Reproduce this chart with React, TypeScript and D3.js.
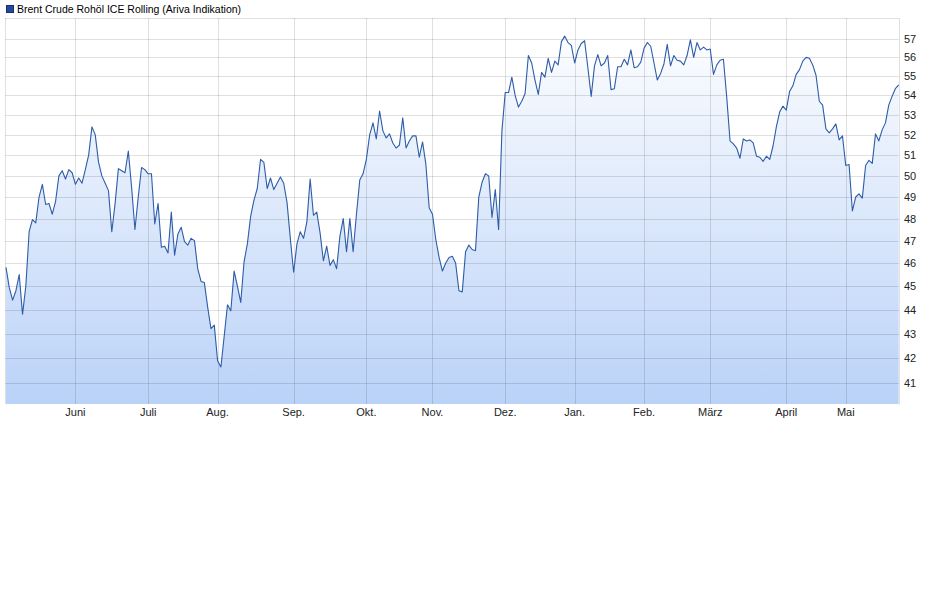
import React from "react";
import * as d3 from "d3";

const seriesName = "Brent Crude Rohöl ICE Rolling (Ariva Indikation)";

const prices: number[] = [
  45.81, 44.93, 44.4, 44.8, 45.5, 43.8, 45.0, 47.4, 47.95, 47.8,
  49.0, 49.6, 48.65, 48.7, 48.2, 48.8, 50.0, 50.25, 49.85, 50.3,
  50.15, 49.6, 49.9, 49.65, 50.3, 51.0, 52.4, 52.0, 50.65, 50.0,
  49.65, 49.3, 47.4, 48.7, 50.35, 50.25, 50.15, 51.2, 49.45, 47.5,
  49.0, 50.4, 50.3, 50.1, 50.1, 47.75, 48.7, 46.7, 46.75, 46.45,
  48.3, 46.35, 47.3, 47.6, 46.95, 46.8, 47.1, 47.0, 45.75, 45.2,
  45.15, 44.1, 43.2, 43.35, 41.9, 41.65, 42.9, 44.2, 43.95, 45.65,
  45.0, 44.3, 46.05, 46.85, 48.1, 48.85, 49.4, 50.8, 50.65, 49.4,
  49.9, 49.35, 49.65, 49.95, 49.65, 48.75, 47.1, 45.6, 46.85, 47.4,
  47.1, 47.85, 49.85, 48.15, 48.3, 47.35, 46.1, 46.75, 45.9, 46.15,
  45.75, 47.2, 48.0, 46.5, 48.0, 46.5, 48.2, 49.8, 50.1, 50.8,
  52.0, 52.6, 51.8, 53.2, 52.2, 51.85, 52.05, 51.6, 51.35, 51.5,
  52.85, 51.35, 51.7, 51.95, 51.95, 50.9, 51.65, 50.55, 48.5, 48.2,
  47.05, 46.25, 45.65, 46.0, 46.25, 46.3, 46.0, 44.8, 44.75, 46.5,
  46.8, 46.6, 46.55, 49.0, 49.7, 50.1, 50.0, 48.05, 49.35, 47.5,
  52.2, 54.15, 54.15, 54.95, 54.0, 53.4, 53.7, 54.1, 56.1, 55.7,
  54.8, 54.05, 55.2, 54.95, 55.95, 55.2, 55.8, 55.6, 56.85, 57.15,
  56.8, 56.65, 55.7, 56.4, 56.75, 56.9, 55.45, 53.95, 55.55, 56.15,
  55.55, 55.7, 56.1, 54.3, 54.35, 55.5, 55.5, 55.9, 55.6, 56.4,
  55.45, 55.5, 55.75, 56.5, 56.8, 56.6, 55.7, 54.8, 55.15, 55.65,
  56.7, 55.55, 56.1, 55.85, 55.8, 55.6, 56.1, 56.95, 56.0, 56.8,
  56.4, 56.55, 56.4, 56.45, 55.1, 55.6, 55.85, 55.9, 53.9, 51.7,
  51.55, 51.35, 50.85, 51.8, 51.7, 51.75, 51.6, 50.95, 50.9, 50.7,
  50.95, 50.8, 51.45, 52.4, 53.15, 53.45, 53.25, 54.2, 54.5, 55.1,
  55.35, 55.8, 56.0, 55.95, 55.6, 55.05, 53.7, 53.5, 52.3, 52.1,
  52.3, 52.55, 51.75, 51.95, 50.5, 50.55, 48.35, 49.0, 49.15, 48.95,
  50.5, 50.75, 50.6, 52.05, 51.7, 52.25, 52.6, 53.5, 53.95, 54.35,
  54.55,
];

const monthLabels: string[] = [
  "Juni", "Juli", "Aug.", "Sep.", "Okt.", "Nov.", "Dez.", "Jan.", "Feb.", "März", "April", "Mai",
];
const monthIndex: number[] = [21, 43, 64, 87, 109, 129, 151, 172, 193, 213, 236, 254];

const yTicks: number[] = [41, 42, 43, 44, 45, 46, 47, 48, 49, 50, 51, 52, 53, 54, 55, 56, 57];

export default function App() {
  const W = 937;
  const H = 602;
  const left = 5;
  const right = 899;
  const top = 18;
  const bottom = 404;

  const x = d3.scaleLinear().domain([-0.3, 270.1]).range([left, right]);
  const y = d3.scaleLog().domain([40.2, 58.15]).range([bottom, top]);

  const line = d3
    .line<number>()
    .x((_, i) => x(i))
    .y((d) => y(d));
  const area = d3
    .area<number>()
    .x((_, i) => x(i))
    .y0(bottom)
    .y1((d) => y(d));

  const font = "'Liberation Sans', Arial, sans-serif";

  return (
    <svg
      width={W}
      height={H}
      viewBox={`0 0 ${W} ${H}`}
      style={{ position: "absolute", left: 0, top: 0, background: "#fff" }}
    >
      <defs>
        <linearGradient id="fillGrad" x1="0" y1={top} x2="0" y2={bottom} gradientUnits="userSpaceOnUse">
          <stop offset="0" stopColor="#ffffff" />
          <stop offset="1" stopColor="#bad2f8" />
        </linearGradient>
      </defs>

      {/* legend */}
      <rect x={6.5} y={5.5} width={7} height={7} fill="#2448a0" stroke="#1a2f66" strokeWidth={1} />
      <text x={17} y={13} fontFamily={font} fontSize={10.5} fill="#000">
        {seriesName}
      </text>

      {/* area */}
      <path d={area(prices) || ""} fill="url(#fillGrad)" />

      {/* horizontal grid */}
      {yTicks.map((t) => (
        <line
          key={"h" + t}
          x1={left}
          x2={right}
          y1={Math.round(y(t)) + 0.5}
          y2={Math.round(y(t)) + 0.5}
          stroke="#000"
          strokeOpacity={0.12}
        />
      ))}
      {/* vertical grid */}
      {monthIndex.map((m, i) => (
        <line
          key={"v" + i}
          x1={Math.round(x(m)) + 0.5}
          x2={Math.round(x(m)) + 0.5}
          y1={top}
          y2={bottom}
          stroke="#000"
          strokeOpacity={0.12}
        />
      ))}
      {/* frame */}
      <line x1={left + 0.5} x2={left + 0.5} y1={top} y2={bottom} stroke="#000" strokeOpacity={0.12} />
      <line x1={right + 0.5} x2={right + 0.5} y1={top} y2={bottom + 1} stroke="#000" strokeOpacity={0.12} />
      <line x1={left} x2={right} y1={top + 0.5} y2={top + 0.5} stroke="#000" strokeOpacity={0.12} />

      {/* line */}
      <path d={line(prices) || ""} fill="none" stroke="#2d5ca8" strokeWidth={1.1} strokeLinejoin="round" />

      {/* y labels */}
      {yTicks.map((t) => (
        <text key={"yl" + t} x={904} y={y(t) + 4} fontFamily={font} fontSize={11} fill="#222">
          {t}
        </text>
      ))}
      {/* x labels */}
      {monthIndex.map((m, i) => (
        <text
          key={"xl" + i}
          x={x(m)}
          y={416}
          textAnchor="middle"
          fontFamily={font}
          fontSize={11}
          fill="#222"
        >
          {monthLabels[i]}
        </text>
      ))}
    </svg>
  );
}
